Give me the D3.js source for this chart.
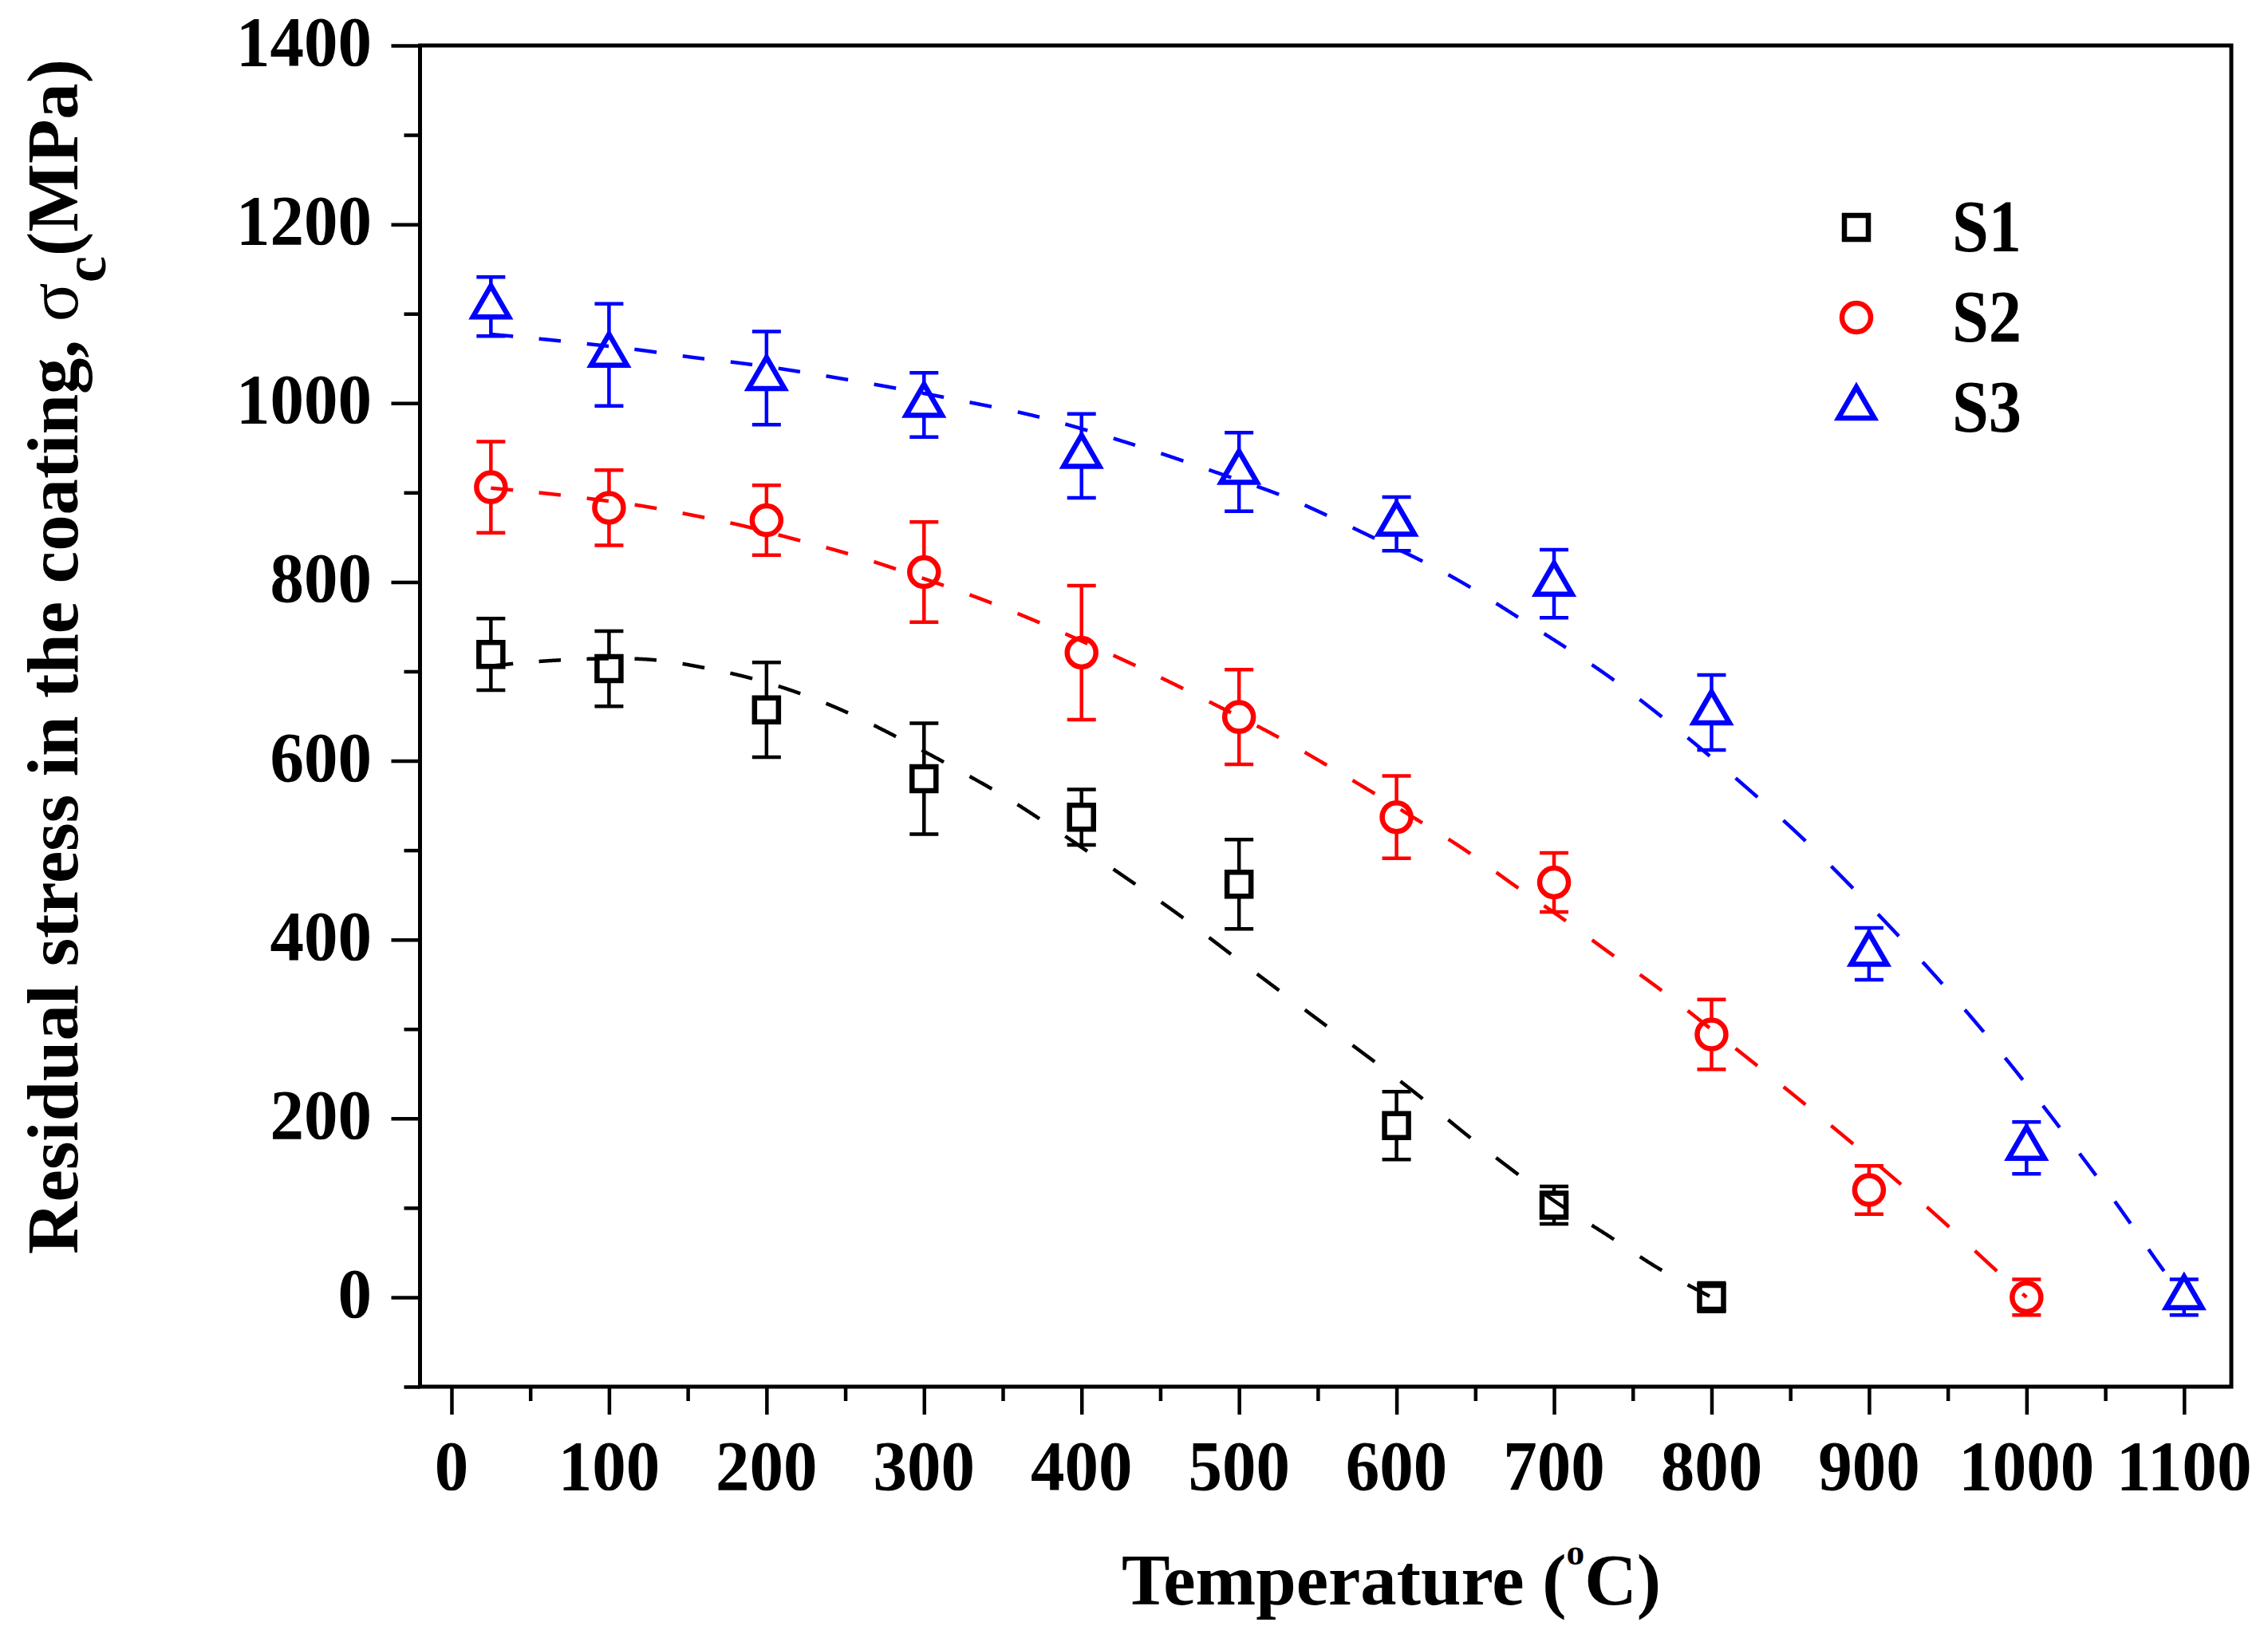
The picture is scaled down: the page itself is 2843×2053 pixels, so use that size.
<!DOCTYPE html>
<html>
<head>
<meta charset="utf-8">
<script src="https://cdn.jsdelivr.net/npm/d3@7"></script>
<style>
    body { margin: 0; background: #fff; }
    text { font-family: "Liberation Serif", "Times New Roman", serif; font-weight: bold; fill: #000; }
</style>
</head>
<body>
<div id="chart"></div>
<script>
// Measured temperatures (deg C)
const temps = [25, 100, 200, 300, 400, 500, 600, 700, 800, 900, 1000, 1100];

// Residual stress (MPa) and error bar half-widths
const s1Stress = [719, 703, 657, 580, 537, 462, 192, 103, 0];
const s1Error = [40, 42, 53, 62, 31, 50, 38, 21, 16];
const s2Stress = [906, 883, 869, 811, 721, 649, 537, 464, 294, 120, 0];
const s2Error = [51, 42, 39, 56, 75, 53, 46, 33, 39, 27, 20];
const s3Stress = [1108, 1054, 1028, 998, 941, 923, 865, 798, 654, 384, 167, 0];
const s3Error = [33, 57, 52, 36, 47, 44, 30, 38, 42, 29, 29, 20];

// Dashed fit curves
const fitS1Temp = [25, 62, 123, 152, 184, 215, 246, 275, 306, 337, 365, 429, 460, 490, 521, 552, 585, 615, 643, 673, 702, 736, 765, 800];
const fitS1Stress = [706, 713, 716, 707, 696, 680, 659, 634, 605, 575, 546, 468, 431, 390, 349, 308, 265, 225, 183, 143, 104, 68, 32, 0];
const fitS2Temp = [25, 62, 93, 123, 152, 184, 215, 246, 275, 306, 337, 373, 395, 429, 460, 490, 522, 551, 582, 613, 644, 673, 705, 735, 766, 796, 827, 858, 889, 920, 951, 981, 1000];
const fitS2Stress = [905, 899, 892, 885, 875, 864, 849, 835, 819, 800, 781, 755, 738, 711, 685, 658, 630, 600, 568, 534, 501, 462, 425, 385, 347, 305, 262, 218, 173, 127, 79, 29, 0];
const fitS3Temp = [25, 62, 93, 123, 152, 184, 215, 246, 275, 306, 337, 373, 429, 459, 491, 522, 551, 582, 614, 644, 673, 704, 735, 766, 796, 827, 858, 888, 918, 945, 972, 997, 1021, 1044, 1066, 1087, 1100];
const fitS3Stress = [1077, 1071, 1065, 1059, 1051, 1045, 1037, 1028, 1019, 1009, 998, 986, 956, 939, 919, 901, 879, 852, 826, 798, 765, 731, 695, 653, 610, 563, 514, 461, 406, 354, 299, 245, 190, 137, 83, 29, 0];

// Axis ticks
const xMajorTicks = [0, 100, 200, 300, 400, 500, 600, 700, 800, 900, 1000, 1100];
const xMinorTicks = [50, 150, 250, 350, 450, 550, 650, 750, 850, 950, 1050];
const yMajorTicks = [0, 200, 400, 600, 800, 1000, 1200, 1400];
const yMinorTicks = [-100, 100, 300, 500, 700, 900, 1100, 1300];

const seriesNames = ["S1", "S2", "S3"];
const seriesColors = ["#000000", "#ff0000", "#0000ff"];

/* Set up container */
const W = 2843, H = 2053;
const svg = d3.select("#chart").append("svg")
    .attr("width", W)
    .attr("height", H)
    .style("display", "block")
    .style("background", "#fff");

const xScale = d3.scaleLinear().domain([-20, 1130]).range([526.5, 2797]);
const yScale = d3.scaleLinear().domain([-100, 1400]).range([1738, 57]);

// Split a path into dashes whose period counts pixels along the major axis
function majorAxisDashes(node, on, period) {
    const total = node.getTotalLength();
    const segs = [];
    let prev = node.getPointAtLength(0);
    let acc = 0;
    let cur = [[prev.x, prev.y]];
    for (let l = 0.5; l <= total; l += 0.5) {
        const p = node.getPointAtLength(l);
        acc += Math.max(Math.abs(p.x - prev.x), Math.abs(p.y - prev.y));
        if (acc % period < on) {
            cur.push([p.x, p.y]);
        } else if (cur.length) {
            if (cur.length > 1) segs.push(cur);
            cur = [];
        }
        prev = p;
    }
    if (cur.length > 1) segs.push(cur);
    return segs;
}

/* Ticks */
function tickAxis(axis, pos, size) {
    svg.append("g")
        .attr("transform", pos)
        .call(axis.tickSize(size).tickFormat(""))
        .call(g => g.select(".domain").remove())
        .selectAll("line")
        .attr("stroke", "#000")
        .attr("stroke-width", 4.5);
}
tickAxis(d3.axisBottom(xScale).tickValues(xMajorTicks), `translate(0, ${yScale(-100)})`, 35);
tickAxis(d3.axisBottom(xScale).tickValues(xMinorTicks), `translate(0, ${yScale(-100)})`, 18);
tickAxis(d3.axisLeft(yScale).tickValues(yMajorTicks), `translate(${xScale(-20)}, 0)`, 36);
tickAxis(d3.axisLeft(yScale).tickValues(yMinorTicks), `translate(${xScale(-20)}, 0)`, 20);

// Tick labels
svg.selectAll(".xlab")
    .data(xMajorTicks)
    .join("text")
    .attr("class", "xlab")
    .attr("x", d => xScale(d))
    .attr("y", 1867)
    .attr("text-anchor", "middle")
    .attr("font-size", 88)
    .attr("textLength", d => String(d).length * 42.5)
    .attr("lengthAdjust", "spacingAndGlyphs")
    .text(d => d);

svg.selectAll(".ylab")
    .data(yMajorTicks)
    .join("text")
    .attr("class", "ylab")
    .attr("x", 466)
    .attr("y", d => yScale(d) + 25)
    .attr("text-anchor", "end")
    .attr("font-size", 88)
    .attr("textLength", d => String(d).length * 42.5)
    .attr("lengthAdjust", "spacingAndGlyphs")
    .text(d => d);

/* Series */
const series = [
    { stress: s1Stress, err: s1Error, fitT: fitS1Temp, fitS: fitS1Stress, symbol: d3.symbolSquare, size: 900 },
    { stress: s2Stress, err: s2Error, fitT: fitS2Temp, fitS: fitS2Stress, symbol: d3.symbolCircle, size: 1018 },
    { stress: s3Stress, err: s3Error, fitT: fitS3Temp, fitS: fitS3Stress, symbol: d3.symbolTriangle, size: 878 }
];

const capHalf = 18;
series.forEach((s, i) => {
    const color = seriesColors[i];
    const pts = s.stress.map((v, j) => ({ t: temps[j], v: v, e: s.err[j] }));

    // Error bars
    const eb = svg.append("g").attr("stroke", color).attr("stroke-width", 4.5);
    eb.selectAll(".bar").data(pts).join("line")
        .attr("x1", d => xScale(d.t)).attr("x2", d => xScale(d.t))
        .attr("y1", d => yScale(d.v + d.e)).attr("y2", d => yScale(d.v - d.e));
    eb.selectAll(".capTop").data(pts).join("line")
        .attr("x1", d => xScale(d.t) - capHalf).attr("x2", d => xScale(d.t) + capHalf)
        .attr("y1", d => yScale(d.v + d.e)).attr("y2", d => yScale(d.v + d.e));
    eb.selectAll(".capBot").data(pts).join("line")
        .attr("x1", d => xScale(d.t) - capHalf).attr("x2", d => xScale(d.t) + capHalf)
        .attr("y1", d => yScale(d.v - d.e)).attr("y2", d => yScale(d.v - d.e));

    // Hollow markers
    svg.append("g").selectAll("path").data(pts).join("path")
        .attr("d", d3.symbol().type(s.symbol).size(s.size))
        .attr("transform", d => `translate(${xScale(d.t)}, ${yScale(d.v)})`)
        .attr("fill", "#fff")
        .attr("stroke", color)
        .attr("stroke-width", 6.5)
        .attr("stroke-linejoin", "miter");
});

// Dashed fit curves on top
const fitLine = d3.line().x(d => xScale(d[0])).y(d => yScale(d[1])).curve(d3.curveBasis);
const plainLine = d3.line();
series.forEach((s, i) => {
    const guide = svg.append("path")
        .attr("d", fitLine(s.fitT.map((t, j) => [t, s.fitS[j]])))
        .attr("fill", "none")
        .attr("stroke", "none");
    const dashes = majorAxisDashes(guide.node(), 28, 60);
    guide.remove();
    svg.append("g").selectAll("path").data(dashes).join("path")
        .attr("d", plainLine)
        .attr("fill", "none")
        .attr("stroke", seriesColors[i])
        .attr("stroke-width", 4.5);
});

/* Frame */
svg.append("rect")
    .attr("x", xScale(-20))
    .attr("y", yScale(1400))
    .attr("width", xScale(1130) - xScale(-20))
    .attr("height", yScale(-100) - yScale(1400))
    .attr("fill", "none")
    .attr("stroke", "#000")
    .attr("stroke-width", 5);

/* Legend */
const legend = svg.selectAll(".legend")
    .data(seriesNames)
    .join("g")
    .attr("class", "legend")
    .attr("transform", (d, i) => `translate(2327, ${285 + i * 113})`);

legend.append("path")
    .attr("d", (d, i) => d3.symbol().type(series[i].symbol).size(series[i].size)())
    .attr("fill", "#fff")
    .attr("stroke", (d, i) => seriesColors[i])
    .attr("stroke-width", 6.5);

legend.append("text")
    .attr("x", 120)
    .attr("y", 30)
    .attr("font-size", 93)
    .attr("textLength", 87)
    .attr("lengthAdjust", "spacingAndGlyphs")
    .text(d => d);

/* Axis titles */
const xTitle = svg.append("text")
    .attr("x", 1406)
    .attr("y", 2011)
    .attr("font-size", 92)
    .attr("textLength", 676)
    .attr("lengthAdjust", "spacingAndGlyphs");
xTitle.append("tspan").text("Temperature (");
xTitle.append("tspan").attr("font-size", 46).attr("dy", -50).text("o");
xTitle.append("tspan").attr("dy", 50).text("C)");

const yTitle = svg.append("text")
    .attr("transform", "translate(97, 1572) rotate(-90)")
    .attr("font-size", 92)
    .attr("textLength", 1498)
    .attr("lengthAdjust", "spacingAndGlyphs");
yTitle.append("tspan").text("Residual stress in the coating, ");
yTitle.append("tspan").attr("font-weight", "normal").text("σ");
yTitle.append("tspan").attr("font-size", 76).attr("dy", 35).text("c");
yTitle.append("tspan").attr("dy", -35).text("(MPa)");
</script>
</body>
</html>
